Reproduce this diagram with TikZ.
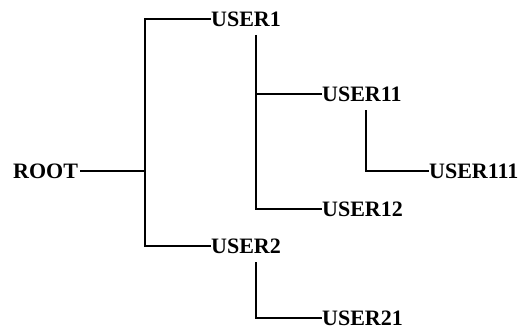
\documentclass[tikz,border=0pt]{standalone}
\usepackage{fontspec}
\setmainfont{Liberation Serif}
\begin{document}
\begin{tikzpicture}[x=1pt,y=-1pt,
  lbl/.style={anchor=west,inner sep=0pt,font=\fontsize{22}{25}\selectfont\bfseries},
  conn/.style={line width=2.4pt,line join=miter}]
\useasboundingbox (0,0) rectangle (529,329);
\node[lbl] (root) at (13,171) {ROOT};
\node[lbl] (u1) at (211,19) {USER1};
\node[lbl] (u2) at (211,246) {USER2};
\node[lbl] (u11) at (322,94) {USER11};
\node[lbl] (u12) at (322,209) {USER12};
\node[lbl] (u111) at (429,171) {USER111};
\node[lbl] (u21) at (322,318) {USER21};
\coordinate (j0) at (145,171);
\coordinate (t1) at (256,35);
\coordinate (t11) at (366,110);
\coordinate (t2) at (256,262);
\draw[conn] ([xshift=2pt]root.east) -- (j0);
\draw[conn] (u1.west) -| (j0) |- (u2.west);
\draw[conn] (t1) |- (u12.west);
\draw[conn] (u11.west) -- (u11.west -| t1);
\draw[conn] (t11) |- (u111.west);
\draw[conn] (t2) |- (u21.west);
\end{tikzpicture}
\end{document}
